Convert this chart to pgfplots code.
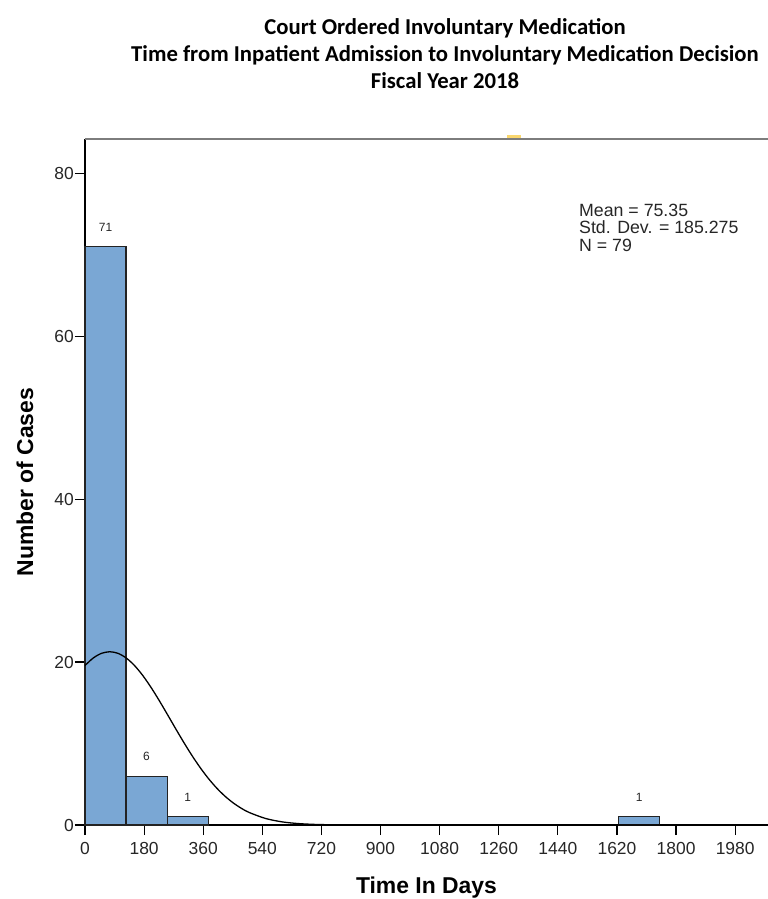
\documentclass[border=0pt]{standalone}
\usepackage{pgfplots}
\pgfplotsset{compat=1.18}
\usepackage{fontspec}
\setmainfont{Liberation Sans}
\newfontfamily\titlefont{Carlito}
\definecolor{barfill}{RGB}{122,167,212}
\definecolor{baredge}{RGB}{35,35,35}
\definecolor{topline}{RGB}{125,125,125}
\definecolor{goldmark}{RGB}{250,215,110}
\begin{document}
\begin{tikzpicture}
\useasboundingbox (-85bp,-74bp) rectangle (683bp,825bp);
\node[anchor=base, font=\titlefont\bfseries\fontsize{22.8}{26}\selectfont] at (360bp,790bp) {Court Ordered Involuntary Medication};
\node[anchor=base, font=\titlefont\bfseries\fontsize{22.8}{26}\selectfont] at (360bp,763bp) {Time from Inpatient Admission to Involuntary Medication Decision};
\node[anchor=base, font=\titlefont\bfseries\fontsize{22.8}{26}\selectfont] at (360bp,736bp) {Fiscal Year 2018};
\begin{axis}[
  scale only axis, width=683bp, height=686bp,
  at={(0,0)}, anchor=south west,
  xmin=0, xmax=2080, ymin=0, ymax=84.2,
  axis x line*=bottom, axis y line*=left,
  axis line style={-, black, line width=1.2bp},
  xtick={0,180,360,540,720,900,1080,1260,1440,1620,1800,1980},
  ytick={0,20,40,60,80},
  tick align=outside, major tick length=10bp,
  every tick/.style={black, line width=1.2bp},
  /pgf/number format/assume math mode=true,
  /pgf/number format/1000 sep={},
  tick label style={font=\fontsize{17.5}{19}\selectfont, text=black!85},
  yticklabel style={inner sep=1bp},
  xticklabel style={inner sep=2bp, yshift=-5bp},
  xlabel={Time In Days},
  ylabel={Number of Cases},
  xlabel style={font=\bfseries\fontsize{23}{26}\selectfont, at={(axis description cs:0.5,0)}, anchor=base, yshift=-68bp},
  ylabel style={font=\bfseries\fontsize{23}{26}\selectfont, at={(axis description cs:-0.088,0.5)}, anchor=center, rotate=0},
  clip=false,
]
\addplot[ybar interval, fill=barfill, draw=baredge, line width=1.1bp] coordinates {(0,71) (125,6) (250,1) (375,1)};
\addplot[ybar interval, fill=barfill, draw=baredge, line width=1.1bp] coordinates {(1625,1) (1750,1)};
\addplot[only marks, mark=none, nodes near coords, point meta=y,
  every node near coord/.style={anchor=south, inner sep=0pt, yshift=15bp, font=\fontsize{12}{13}\selectfont, text=black!85}]
  coordinates {(62.5,71) (187.5,6) (312.5,1) (1687.5,1)};
\addplot[black, line width=1.3bp, smooth] coordinates {
(0,19.575) (25,20.493) (50,21.066) (75.35,21.264) (100,21.077) (125,20.514)
(150,19.606) (175,18.400) (200,16.956) (225,15.345) (250,13.635) (275,11.898)
(300,10.194) (325,8.577) (350,7.087) (375,5.749) (400,4.580) (425,3.583)
(450,2.752) (475,2.076) (500,1.537) (550,0.799) (600,0.386) (650,0.173)
(700,0.072) (750,0.028) (800,0.010) (900,0.001) (1000,0) (2080,0)};
\draw[topline, line width=2.5bp] (rel axis cs:0,1) -- (rel axis cs:1,1);
\fill[goldmark] ([xshift=422bp,yshift=1.3bp]rel axis cs:0,1) rectangle ([xshift=436bp,yshift=4bp]rel axis cs:0,1);
\node[anchor=north west, inner sep=0pt, align=left, font=\fontsize{17.8}{18}\selectfont, text=black!85] at (rel axis cs:0.7233,0.906) {Mean = 75.35\\Std. Dev. = 185.275\\N = 79};
\end{axis}
\end{tikzpicture}
\end{document}
